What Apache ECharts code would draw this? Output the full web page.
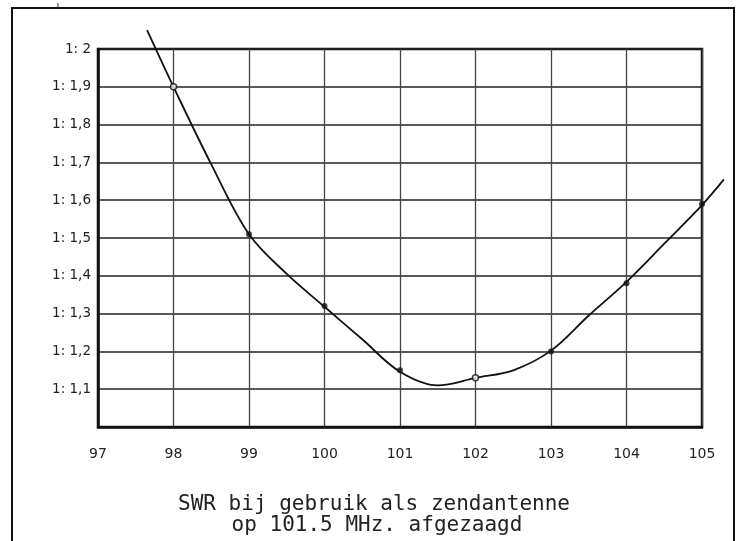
<!DOCTYPE html>
<html>
<head>
<meta charset="utf-8">
<script src="https://cdn.jsdelivr.net/npm/echarts@6/dist/echarts.min.js"></script>
<style>
html,body{margin:0;padding:0;background:#fff;}
#c{width:741px;height:541px;}
</style>
</head>
<body>
<div id="c"></div>
<script>
// Measured points (frequency in MHz, SWR 1:x)
const freqMHz = [98, 99, 100, 101, 102, 103, 104, 105];
const swrMeasured = [1.90, 1.51, 1.32, 1.15, 1.13, 1.20, 1.38, 1.59];

// Hand-drawn curve
const curveX = [97.65, 98.0, 98.5, 99.0, 99.5, 100.0, 100.5, 101.0, 101.5, 102.0, 102.5, 103.0, 103.5, 104.0, 104.5, 105.0, 105.29];
const curveY = [2.05, 1.90, 1.695, 1.51, 1.405, 1.318, 1.232, 1.146, 1.110, 1.130, 1.150, 1.202, 1.295, 1.384, 1.485, 1.587, 1.655];

// Tick labels
const xTickLabels = ['97', '98', '99', '100', '101', '102', '103', '104', '105'];
const yTickLabels = ['', '1: 1,1', '1: 1,2', '1: 1,3', '1: 1,4', '1: 1,5', '1: 1,6', '1: 1,7', '1: 1,8', '1: 1,9', '1: 2'];

const titleLines = ['SWR bij gebruik als zendantenne', 'op 101.5 MHz. afgezaagd'];

const chart = echarts.init(document.getElementById('c'), null, {renderer: 'canvas'});

const hollow = {color: '#fff', borderColor: '#111', borderWidth: 1.5};
const dotData = freqMHz.map((x, i) => {
  const item = {value: [x, swrMeasured[i]]};
  if (x === 98 || x === 102) item.itemStyle = hollow;
  return item;
});

// main plot: 97..105 between x=98 and x=702 (75.5 px per MHz)
const plotLeft = 98, plotRight = 702, plotTop = 49, plotBottom = 427;
const pxPerUnit = (plotRight - plotLeft) / 8;
const extMax = 105.3;
const extRight = plotLeft + (extMax - 97) * pxPerUnit;

chart.setOption({
  animation: false,
  backgroundColor: '#fff',
  grid: [
    {left: plotLeft, right: 741 - plotRight, top: plotTop, bottom: 541 - plotBottom, show: true, borderColor: '#111', borderWidth: 2.5, backgroundColor: 'transparent'},
    {left: plotLeft, right: 741 - extRight, top: plotTop, bottom: 541 - plotBottom, show: false}
  ],
  xAxis: [{
    gridIndex: 0, type: 'value', min: 97, max: 105, interval: 1,
    axisLine: {show: true, lineStyle: {color: '#111', width: 2.5}},
    axisTick: {show: false},
    axisLabel: {
      margin: 20, fontSize: 14, color: '#222', fontFamily: 'DejaVu Sans',
      formatter: v => xTickLabels[Math.round(v - 97)] || ''
    },
    splitLine: {show: true, lineStyle: {color: '#444', width: 1.3}}
  }, {
    gridIndex: 1, type: 'value', min: 97, max: extMax, show: false,
    splitLine: {show: false}
  }],
  yAxis: [{
    gridIndex: 0, type: 'value', min: 1.0, max: 2.0, interval: 0.1,
    axisLine: {show: true, lineStyle: {color: '#111', width: 2.5}},
    axisTick: {show: false},
    axisLabel: {
      margin: 7, fontSize: 13.5, color: '#222', fontFamily: 'DejaVu Sans',
      formatter: v => yTickLabels[Math.round((v - 1) * 10)] || ''
    },
    splitLine: {show: true, lineStyle: {color: '#222', width: 1.6}}
  }, {
    gridIndex: 1, type: 'value', min: 1.0, max: 2.0, show: false,
    splitLine: {show: false}
  }],
  series: [
    {
      type: 'line', xAxisIndex: 1, yAxisIndex: 1, clip: false, smooth: 0.35, showSymbol: false, silent: true,
      lineStyle: {color: '#111', width: 1.8},
      data: curveX.map((x, i) => [x, curveY[i]]),
      z: 3
    },
    {
      type: 'scatter', xAxisIndex: 0, yAxisIndex: 0, symbol: 'circle', symbolSize: 6, clip: false,
      itemStyle: {color: '#111'},
      data: dotData,
      z: 4
    }
  ],
  graphic: [
    {type: 'polyline', shape: {points: [[12, 541], [12, 8], [734, 8], [734, 541]]}, style: {stroke: '#111', lineWidth: 2, fill: null}},
    {type: 'line', shape: {x1: 58, y1: 3, x2: 58, y2: 8}, style: {stroke: '#333', lineWidth: 1}},
    {type: 'text', x: 374, y: 505, style: {text: titleLines[0], font: '21px "DejaVu Sans Mono"', fill: '#222', align: 'center', verticalAlign: 'middle'}},
    {type: 'text', x: 377, y: 526, style: {text: titleLines[1], font: '21px "DejaVu Sans Mono"', fill: '#222', align: 'center', verticalAlign: 'middle'}}
  ]
});
</script>
</body>
</html>
